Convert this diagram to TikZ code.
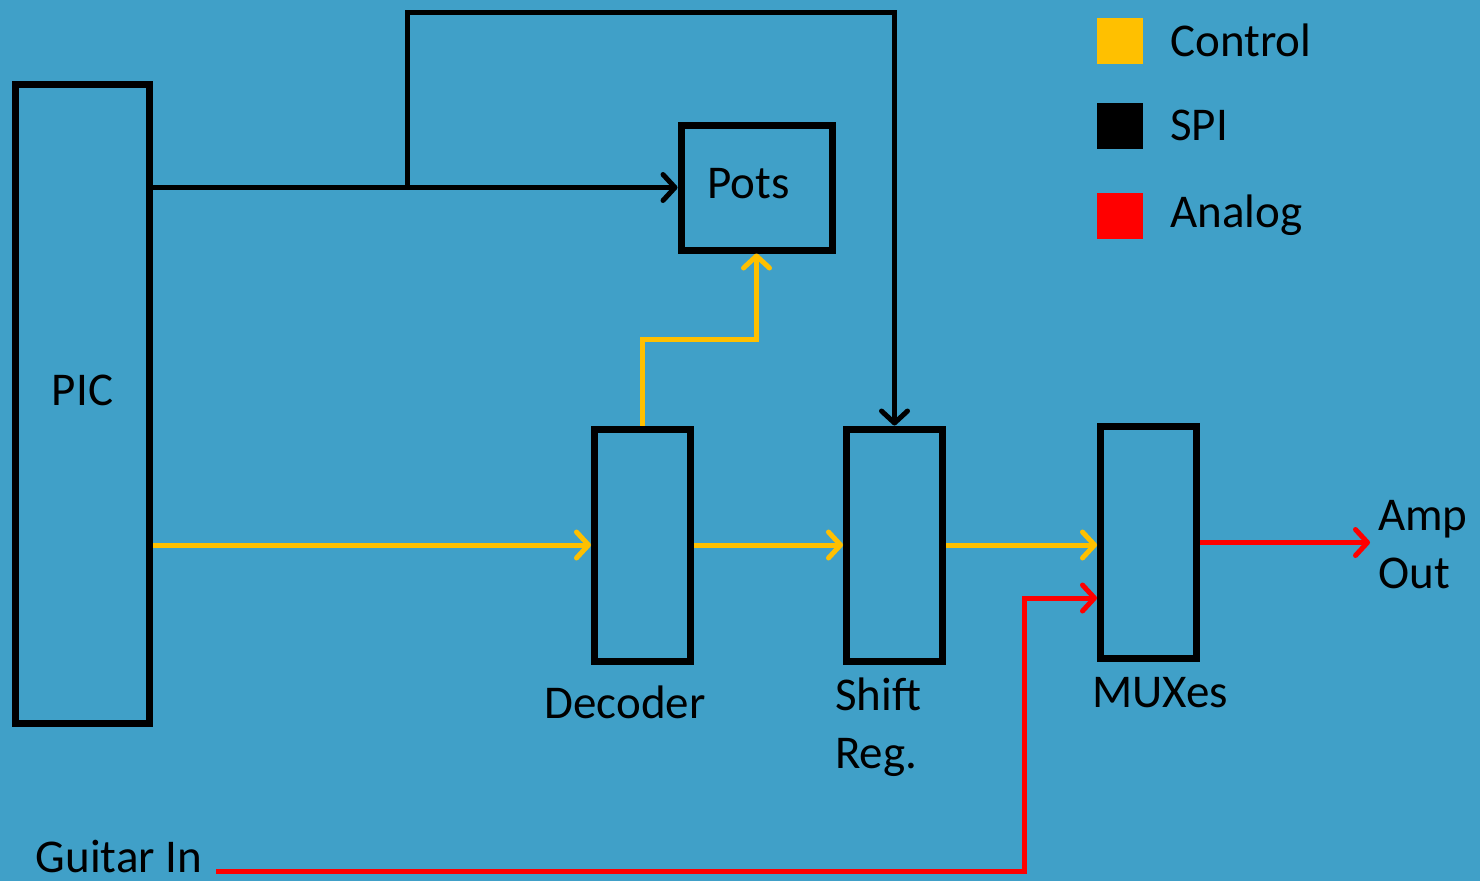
\documentclass[tikz,border=0pt]{standalone}
\usepackage{fontspec}
\setmainfont{Carlito}
\usetikzlibrary{arrows.meta, positioning, calc}
\definecolor{boardblue}{HTML}{40A0C8}
\definecolor{ctrlyellow}{HTML}{FFC000}
\definecolor{analogred}{HTML}{FF0000}
\tikzset{
  blockbox/.style={rectangle, draw=black, line width=7pt, inner sep=0pt},
  lbl/.style={inner sep=0pt, align=left, font=\fontsize{47}{58}\selectfont},
  legsq/.style={rectangle, minimum size=46pt, inner sep=0pt},
  spi/.style={->, line width=5pt, draw=black,
              >={Straight Barb[length=12pt,width=26pt,round]}},
  ctrl/.style={->, line width=5pt, draw=ctrlyellow,
               >={Straight Barb[length=12pt,width=26pt,round]}},
  analog/.style={->, line width=5pt, draw=analogred,
                 >={Straight Barb[length=12pt,width=26pt,round]}},
}
\begin{document}
\begin{tikzpicture}[x=1pt, y=-1pt]

  % --- background ---
  \fill[boardblue] (0,0) rectangle (1480,881);
  \useasboundingbox (0,0) rectangle (1480,881);

  % --- blocks ---
  \node[blockbox, minimum width=134pt, minimum height=639pt] (pic) at (82.5,403.5) {};
  \node[blockbox, minimum width=151pt, minimum height=125pt] (pots) at (756.5,187.5) {};
  \node[blockbox, minimum width=96pt, minimum height=232pt] (dec) at (642.5,545) {};
  \node[blockbox, minimum width=96pt, minimum height=232pt] (shift) at (894.5,545) {};
  \node[blockbox, minimum width=96pt, minimum height=232pt] (mux) at (1148.5,542.5) {};

  % --- block labels ---
  \node[lbl] (piclbl) at ([yshift=13pt]pic.center) {PIC};
  \node[lbl] (potslbl) at ([xshift=-8pt,yshift=4pt]pots.center) {Pots};
  \node[lbl] (declbl) at (625,702) {Decoder};
  \node[lbl, anchor=west] (shiftlbl) at (835,727) {Shift\\Reg.};
  \node[lbl] (muxlbl) at (1160,693) {MUXes};
  \node[lbl, anchor=west] (amp) at (1378,545) {Amp\\Out};
  \node[lbl] (guitar) at (119,856) {Guitar In};

  % --- legend ---
  \node[legsq, fill=ctrlyellow] (legctrl) at (1120,40.5) {};
  \node[legsq, fill=black] (legspi) at (1120,125.5) {};
  \node[legsq, fill=analogred] (legana) at (1120,215.5) {};
  \node[lbl, right=27pt of legctrl] {Control};
  \node[lbl, right=27pt of legspi] {SPI};
  \node[lbl, right=27pt of legana] {Analog};

  % --- SPI ---
  \coordinate (spitap) at (407,188);
  \draw[spi] (pic.east |- pots.west) -- (pots.west);
  \draw[spi] (spitap) -- (407,12) -| (shift.north);

  % --- control ---
  \draw[ctrl] (pic.east |- dec.west) -- (dec.west);
  \draw[ctrl] (dec.east) -- (shift.west);
  \draw[ctrl] (shift.east) -- (mux.west |- shift.east);
  \draw[ctrl] (dec.north) -- ++(0,-86) -| (pots.south);

  % --- analog ---
  \coordinate (muxlow) at (mux.west |- 0,598);
  \draw[analog] (mux.east) -- ([xshift=-8pt]amp.west |- mux.east);
  \draw[analog] ([xshift=14pt,yshift=-15pt]guitar.east) -| ([xshift=-73pt]muxlow) -- (muxlow);

\end{tikzpicture}
\end{document}
